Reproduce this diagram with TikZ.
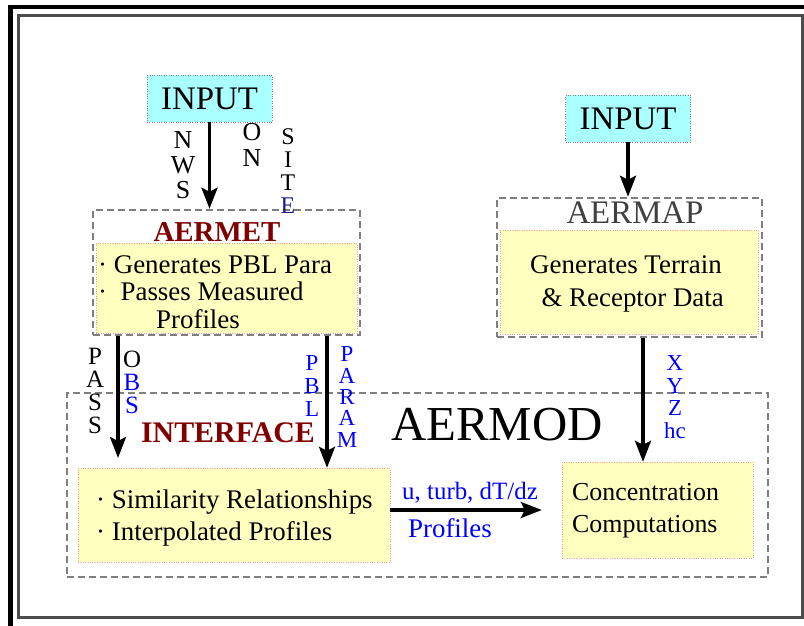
\documentclass[tikz,border=0pt]{standalone}
\usepackage{fontspec}
\setmainfont{Liberation Serif}
\usetikzlibrary{positioning, arrows.meta}

\definecolor{inputcyan}{HTML}{AAFFFF}
\definecolor{boxyellow}{HTML}{FFFFBF}
\definecolor{titlered}{HTML}{800000}
\definecolor{dashgray}{HTML}{7F7F7F}
\definecolor{sitenavy}{HTML}{1A1A8C}

\begin{document}
\begin{tikzpicture}[x=1bp, y=-1bp]
        % Define styles for shapes
        \tikzstyle{inputbox} = [draw=gray, dotted, fill=inputcyan, minimum width=125bp, minimum height=47bp, inner sep=0pt, font=\fontsize{33}{33}\selectfont]
        \tikzstyle{dashbox} = [draw=dashgray, line width=2.5bp, dash pattern=on 7bp off 4bp, inner sep=0pt]
        \tikzstyle{fillbox} = [draw=red!40, dotted, fill=boxyellow, inner sep=0pt]
        \tikzstyle{bodytext} = [align=left, inner sep=0pt, font=\fontsize{27}{27.5}\selectfont]
        \tikzstyle{vlabel} = [align=center, inner sep=0pt, font=\fontsize{25}{23}\selectfont]
        \tikzstyle{bigarrow} = [line width=3.2bp, -{Stealth[length=21bp, width=16bp, inset=4bp]}]

        \useasboundingbox (0,0) rectangle (804,626);

        % Draw frame
        \draw[line width=4.5bp] (10.5,626) -- (10.5,7) -- (804,7);
        \draw[line width=3bp, black!70] (18,16) rectangle (802,617);

        % Draw shapes
        \node[inputbox] (input1) at (209.5,98.5) {INPUT};
        \node[inputbox] (input2) at (628,118.5) {INPUT};

        \node[dashbox, minimum width=267bp, minimum height=125bp] (aermet) at (226.5,272.5) {};
        \node[fillbox, minimum width=261bp, minimum height=90bp] (aermetfill) at (226.5,288) {};
        \node[font=\bfseries\fontsize{29}{29}\selectfont, text=titlered] (aermettitle) at (217,232) {AERMET};
        \node[bodytext, anchor=west] (aermettext) at (98,292) {%
            \textperiodcentered\ Generates PBL Para\\
            \textperiodcentered\ \ Passes Measured\\
            \hspace*{58bp}Profiles};

        \node[dashbox, minimum width=265bp, minimum height=139bp] (aermap) at (629.5,267.5) {};
        \node[fillbox, minimum width=258bp, minimum height=104bp] (aermapfill) at (629,282) {};
        \node[font=\fontsize{33}{33}\selectfont, text=black!75] (aermaptitle) at (635,213) {AERMAP};
        \node[bodytext, align=center, font=\fontsize{27}{33}\selectfont] (aermaptext) at (626,284) {%
            Generates Terrain\\
            \ \ \& Receptor Data};

        \node[dashbox, minimum width=701bp, minimum height=184bp] (aermod) at (417.5,485) {};
        \node[font=\fontsize{49}{49}\selectfont] (aermodtitle) at (497,425) {AERMOD};
        \node[font=\bfseries\fontsize{30}{30}\selectfont, text=titlered] (interface) at (228,433) {INTERFACE};

        \node[fillbox, minimum width=312bp, minimum height=94bp] (simbox) at (234,515) {};
        \node[bodytext, anchor=west, font=\fontsize{27}{33}\selectfont] (simtext) at (96,518) {%
            \textperiodcentered\ Similarity Relationships\\
            \textperiodcentered\ Interpolated Profiles};

        \node[fillbox, minimum width=191bp, minimum height=96bp] (concbox) at (657.5,510) {};
        \node[bodytext, anchor=west, font=\fontsize{26}{32}\selectfont] (conctext) at (572,511) {%
            Concentration\\
            Computations};

        % Vertical labels
        \node[vlabel, font=\fontsize{26}{25}\selectfont] (nws) at (183,165) {N\\W\\S};
        \node[vlabel, font=\fontsize{26}{26}\selectfont] (onsite1) at (252,145) {O\\N};
        \node[vlabel, font=\fontsize{24}{23}\selectfont] (onsite2) at (288,171) {S\\I\\T\\\textcolor{sitenavy}{E}};
        \node[vlabel] (pass) at (95,391) {P\\A\\S\\S};
        \node[vlabel] (obs) at (132,382) {O\\\textcolor{blue}{B}\\\textcolor{blue}{S}};
        \node[vlabel, text=blue, font=\fontsize{23}{23}\selectfont] (pbl) at (312,386) {P\\B\\L};
        \node[vlabel, text=blue, font=\fontsize{23}{21.5}\selectfont] (param) at (347,397) {P\\A\\R\\A\\M};
        \node[vlabel, text=blue, font=\fontsize{23}{22.5}\selectfont] (xyz) at (675,397) {X\\Y\\Z\\hc};

        % Draw arrows
        \coordinate (passend) at (118,458);
        \coordinate (pblx) at (327,0);
        \coordinate (xyzx) at (643,0);
        \draw[bigarrow] (input1.south) -- (input1.south |- aermet.north);
        \draw[bigarrow] (input2.south) -- (input2.south |- aermap.north);
        \draw[bigarrow] (aermet.south -| passend) -- (passend);
        \draw[bigarrow] (aermet.south -| pblx) -- (simbox.north -| pblx);
        \draw[bigarrow] (aermap.south -| xyzx) -- (concbox.north -| xyzx);
        \draw[bigarrow, shorten >=20bp] (simbox.east |- concbox.west) -- (concbox.west)
            node[midway, above=2bp, xshift=-6bp, text=blue, font=\fontsize{25}{25}\selectfont] {u, turb, dT/dz}
            node[midway, below=4bp, xshift=-26bp, text=blue, font=\fontsize{27}{27}\selectfont] {Profiles};
    \end{tikzpicture}
\end{document}
